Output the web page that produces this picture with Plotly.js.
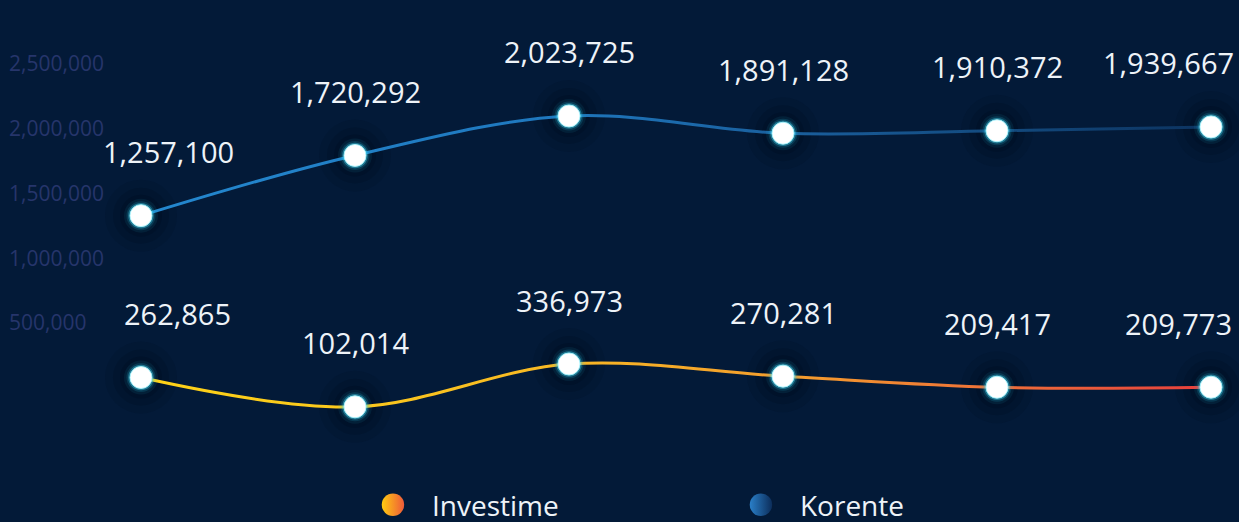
<!DOCTYPE html>
<html>
<head>
<meta charset="utf-8">
<script src="https://cdn.plot.ly/plotly-3.0.1.min.js"></script>
<style>
  html, body { margin: 0; padding: 0; background: #031a38; }
  #chart { width: 1239px; height: 522px; }
</style>
</head>
<body>
<div id="chart"></div>
<script>
// ---- data ----
const periods = [0, 1, 2, 3, 4, 5];
const korente = [1257100, 1720292, 2023725, 1891128, 1910372, 1939667];
const investime = [262865, 102014, 336973, 270281, 209417, 209773];
const tickValues = [500000, 1000000, 1500000, 2000000, 2500000];
const seriesNames = ['Investime', 'Korente'];

const fmt = v => v.toLocaleString('en-US');
const BG = '#031a38';

function seriesTraces(values, yaxis, uid) {
  const out = [];
  const shadows = [[72, 'rgba(0,5,16,0.10)'], [56, 'rgba(0,5,16,0.13)'], [42, 'rgba(0,5,16,0.16)']];
  shadows.forEach(s => out.push({
    x: periods, y: values, yaxis: yaxis, type: 'scatter', mode: 'markers',
    marker: { size: s[0], color: s[1], line: { width: 0 } },
    hoverinfo: 'skip', showlegend: false
  }));
  out.push({
    x: periods, y: values, yaxis: yaxis, type: 'scatter', mode: 'lines', uid: uid,
    line: { shape: 'spline', smoothing: 1, width: 3, color: '#2386cc' },
    hoverinfo: 'skip', showlegend: false
  });
  const glows = [[34, 'rgba(40,200,230,0.08)'], [29, 'rgba(40,200,230,0.16)'], [25.5, 'rgba(70,220,245,0.40)']];
  glows.forEach(s => out.push({
    x: periods, y: values, yaxis: yaxis, type: 'scatter', mode: 'markers',
    marker: { size: s[0], color: s[1], line: { width: 0 } },
    hoverinfo: 'skip', showlegend: false
  }));
  out.push({
    x: periods, y: values, yaxis: yaxis, type: 'scatter', mode: 'markers',
    marker: { size: 22, color: '#ffffff', line: { width: 1, color: 'rgba(170,245,255,0.9)' } },
    hoverinfo: 'skip', showlegend: false
  });
  return out;
}

const traces = [].concat(
  seriesTraces(korente, 'y', 'korline'),
  seriesTraces(investime, 'y2', 'invline'),
  [
    { x: [null], y: [null], type: 'scatter', mode: 'markers', name: seriesNames[0], yaxis: 'y3',
      marker: { size: 16, color: '#ffcc10', gradient: { type: 'horizontal', color: '#ee5a3a' } } },
    { x: [null], y: [null], type: 'scatter', mode: 'markers', name: seriesNames[1], yaxis: 'y3',
      marker: { size: 16, color: '#2a7fc8', gradient: { type: 'horizontal', color: '#0c2d5a' } } }
  ]
);

// value labels
const annotations = [];
function addLabels(values, yref, firstShift, lastShift) {
  values.forEach((v, i) => {
    let xs = 0;
    if (i === 0) xs = firstShift;
    if (i === values.length - 1) xs = lastShift;
    annotations.push({
      x: periods[i], y: v, xref: 'x', yref: yref, text: fmt(v), showarrow: false,
      yshift: 64, xshift: xs,
      font: { family: 'Open Sans, sans-serif', size: 29, color: '#eef3f8' }
    });
  });
}
addLabels(korente, 'y', 28, -43);
addLabels(investime, 'y2', 37, -33);

const layout = {
  width: 1239, height: 522,
  paper_bgcolor: BG, plot_bgcolor: BG,
  margin: { l: 6, r: 0, t: 10, b: 70, autoexpand: false },
  showlegend: true,
  legend: {
    orientation: 'h', x: 0.2822, xanchor: 'left', y: -0.1200, yanchor: 'middle',
    itemwidth: 68, entrywidth: 285, entrywidthmode: 'pixels',
    font: { family: 'Open Sans, sans-serif', size: 28, color: '#eef3f8' },
    bgcolor: 'rgba(0,0,0,0)'
  },
  xaxis: { range: [-0.6308, 5.1308], visible: false, fixedrange: true },
  yaxis: { range: [-561700, 2839300], visible: false, fixedrange: true },
  yaxis2: { range: [-145700, 2278900], overlaying: 'y', visible: false, fixedrange: true },
  yaxis3: {
    overlaying: 'y', side: 'left', anchor: 'x',
    range: [-496000, 2917000], tickvals: tickValues, ticktext: tickValues.map(fmt),
    ticklabelposition: 'inside', showgrid: false, zeroline: false, showline: false, ticks: '',
    tickfont: { family: 'Open Sans, sans-serif', size: 21, color: '#26356b' }, fixedrange: true
  },
  annotations: annotations,
  font: { family: 'Open Sans, sans-serif' }
};

Plotly.newPlot('chart', traces, layout, { displayModeBar: false, staticPlot: true }).then(gd => {
  const svgNS = 'http://www.w3.org/2000/svg';
  const defs = gd.querySelector('.main-svg defs');
  const W = gd._fullLayout._size.w, L = gd._fullLayout._size.l;
  function grad(id, stops) {
    const g = document.createElementNS(svgNS, 'linearGradient');
    g.setAttribute('id', id);
    g.setAttribute('gradientUnits', 'userSpaceOnUse');
    g.setAttribute('x1', 0); g.setAttribute('x2', W);
    g.setAttribute('y1', 0); g.setAttribute('y2', 0);
    stops.forEach(s => {
      const st = document.createElementNS(svgNS, 'stop');
      st.setAttribute('offset', Math.max(0, Math.min(1, (s[0] - L) / W)));
      st.setAttribute('stop-color', s[1]);
      g.appendChild(st);
    });
    defs.appendChild(g);
  }
  grad('gInv', [[120, '#ffd417'], [360, '#fbc81d'], [560, '#f8b824'], [810, '#f49a2e'], [1010, '#ee6c39'], [1200, '#e8413c']]);
  grad('gKor', [[140, '#2488cf'], [550, '#1f78be'], [815, '#195c99'], [1000, '#134a7e'], [1210, '#0c3360']]);
  const inv = gd.querySelector('g.traceinvline path.js-line');
  const kor = gd.querySelector('g.tracekorline path.js-line');
  if (inv) inv.style.stroke = 'url(#gInv)';
  if (kor) kor.style.stroke = 'url(#gKor)';
  // enlarge legend symbols to match the reference size
  gd.querySelectorAll('.legend .legendpoints path.scatterpts').forEach(p => {
    const t = p.getAttribute('transform') || '';
    p.setAttribute('transform', t + ' scale(1.4)');
  });
});
</script>
</body>
</html>
